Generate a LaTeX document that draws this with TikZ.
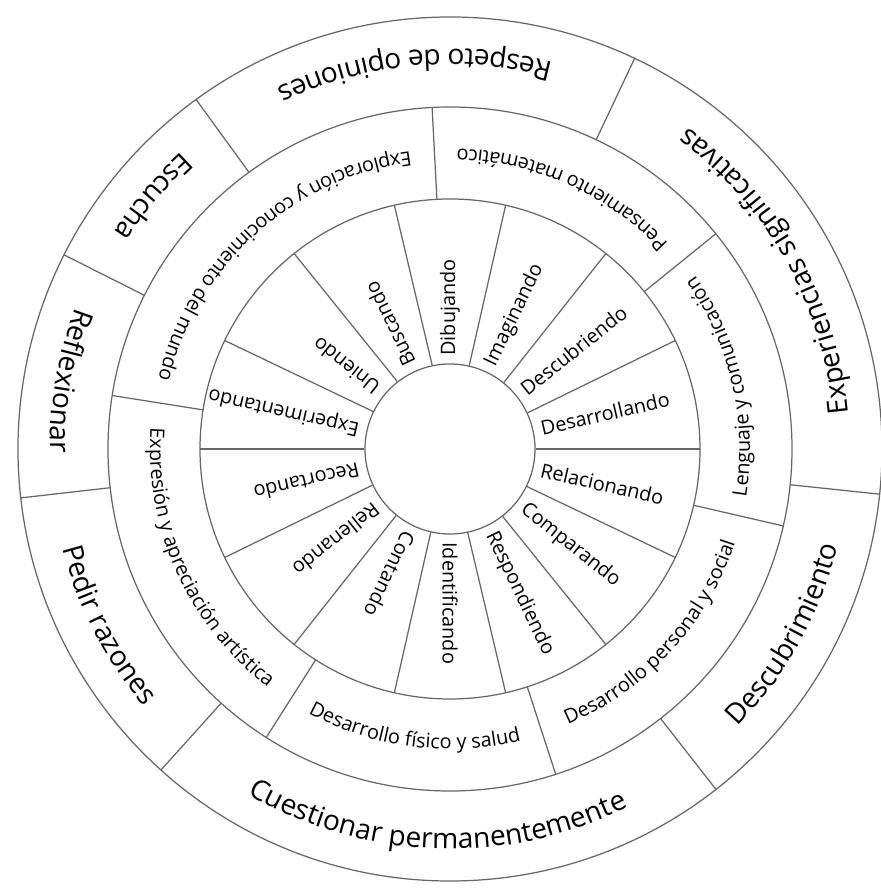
\documentclass[tikz,border=0pt]{standalone}
\usepackage{fontspec}
\setmainfont{Open Sans}
\usetikzlibrary{decorations.text}

\newcommand{\verbfont}{\fontsize{11.3}{13}\selectfont}
\newcommand{\areafont}{\fontsize{11.3}{13}\selectfont}
\newcommand{\attfont}{\fontsize{16}{19}\selectfont}

% text bent along a counter-clockwise arc: start angle, end angle, radius, text
\newcommand{\ringlabel}[4]{%
  \path[decorate, decoration={text along path, text align=center, text={#4}}]
    (#1:#3) arc[start angle=#1, end angle=#2, radius=#3];}

\begin{document}
\begin{tikzpicture}[
  rim/.style={draw=black!60, line width=0.7pt},
  spoke/.style={draw=black!60, line width=0.7pt},
  hub/.style={circle, draw=black!60, line width=0.7pt, minimum size=3.4cm, inner sep=0pt},
  verb/.style={font=\verbfont, inner sep=0pt, anchor=west}
]
  \useasboundingbox[fill=white] (-9.00,-8.78) rectangle (8.60,8.98);

  % rings
  \node[hub] (hub) at (0,0) {};
  \draw[rim] (0,0) circle[radius=5cm];
  \draw[rim] (0,0) circle[radius=6.84cm];
  \draw[rim] (0,0) circle[radius=8.64cm];

  % inner ring: actions
  \foreach \k [evaluate=\k as \a using \k*360/14] in {0,...,13}
    \draw[spoke] (hub.\a) -- (\a:5cm);
  \foreach \t [count=\i from 0, evaluate=\i as \b using \i*360/14+180/14] in
    {Desarrollando,Descubriendo,Imaginando,Dibujando,Buscando,Uniendo,Experimentando,
     Recortando,Rellenando,Contando,Identificando,Respondiendo,Comparando,Relacionando}
    \node[verb, rotate=\b] (v\i) at (\b:1.86cm) {\t};

  % middle ring: fields
  \foreach \a in {39,93,171,237.5,288,347}
    \draw[spoke] (\a:5cm) -- (\a:6.84cm);
  \ringlabel{39}{93}{6cm}{|\areafont|Pensamiento matemático}
  \ringlabel{93}{171}{6cm}{|\areafont|Exploración y conocimiento del mundo}
  \ringlabel{171}{237.5}{6cm}{|\areafont|Expresión y apreciación artística}
  \ringlabel{237.5}{288}{6cm}{|\areafont|Desarrollo físico y salud}
  \ringlabel{288}{347}{6cm}{|\areafont|Desarrollo personal y social}
  \ringlabel{347}{399}{6cm}{|\areafont|Lenguaje y comunicación}

  % outer ring: attitudes
  \foreach \a in {64.7,126,153.3,186.5,228,308,354}
    \draw[spoke] (\a:6.84cm) -- (\a:8.64cm);
  \ringlabel{64.7}{126}{8cm}{|\attfont|Respeto de opiniones}
  \ringlabel{126}{153.3}{8cm}{|\attfont|Escucha}
  \ringlabel{153.3}{186.5}{8cm}{|\attfont|Reflexionar}
  \ringlabel{186.5}{228}{8cm}{|\attfont|Pedir razones}
  \ringlabel{228}{308}{8cm}{|\attfont|Cuestionar permanentemente}
  \ringlabel{308}{354}{8cm}{|\attfont|Descubrimiento}
  \ringlabel{354}{424.7}{8cm}{|\attfont|Experiencias significativas}
\end{tikzpicture}
\end{document}
